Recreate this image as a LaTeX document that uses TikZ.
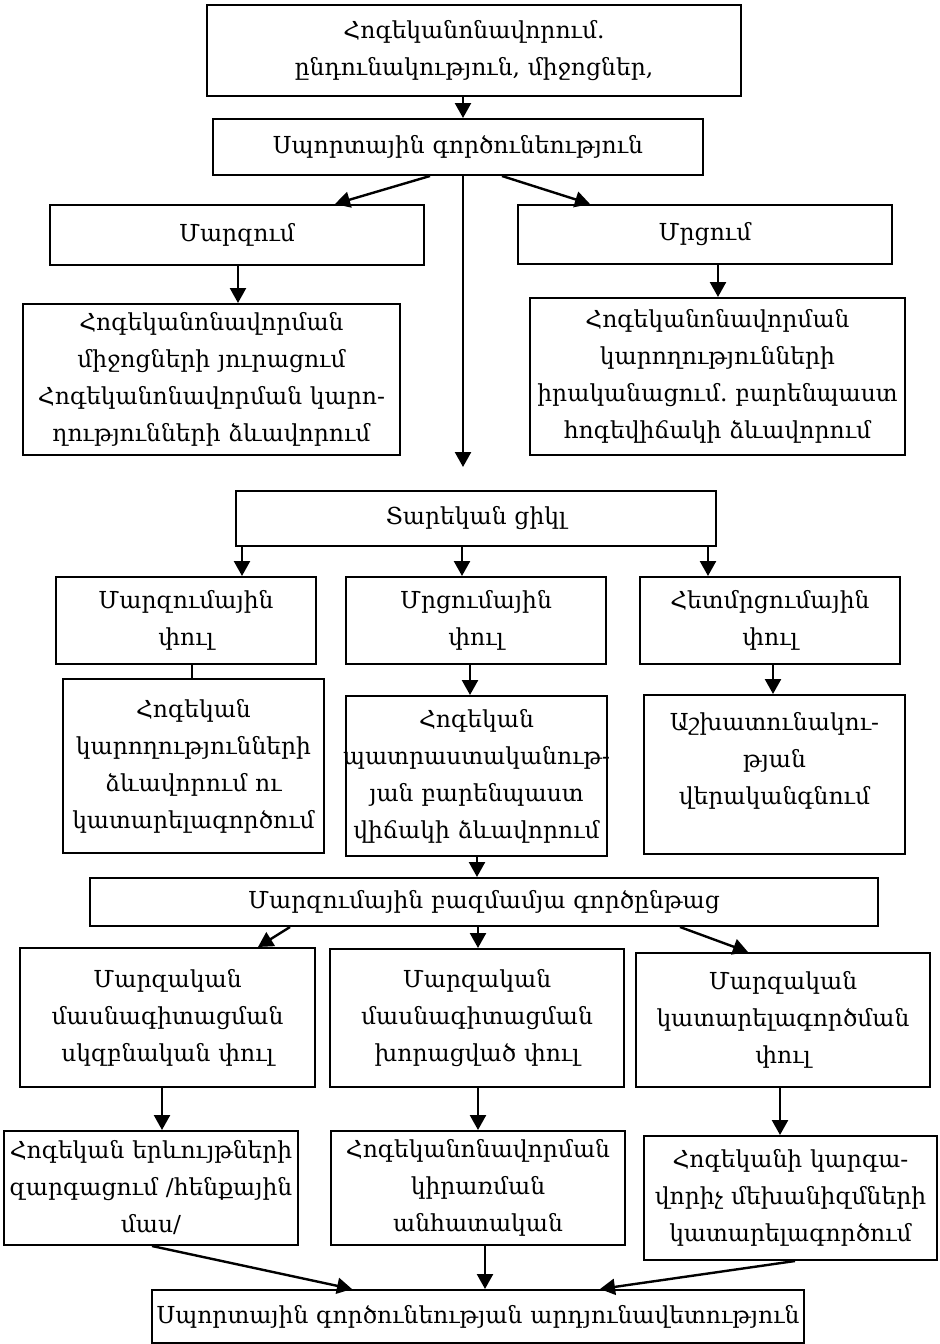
\documentclass[tikz,border=0pt]{standalone}
\usepackage{fontspec}
\setmainfont{DejaVu Serif}
\usetikzlibrary{arrows.meta}
\frenchspacing
\tikzset{
  panel/.style={draw, line width=1pt, align=center, inner sep=0pt,
    font=\fontsize{11.7}{18.5}\selectfont},
  link/.style={line width=1.2pt, -{Triangle[length=7.5pt,width=8pt]}},
}
% box from (x1,y1) to (x2,y2) in pixel units
\newcommand\panel[6]{%
  \node[panel, text width={(#4-#2)*0.5pt}, minimum height={(#5-#3)*0.5pt}]
    (#1) at ({(#2+#4)/2},{(#3+#5)/2}) {#6};}

\begin{document}
\begin{tikzpicture}[x=0.5pt, y=-0.5pt]
  \useasboundingbox (0,0) rectangle (939,1344);
  % top part
  \panel{intro}{207}{5}{741}{96}{Հոգեկանոնավորում.\\ ընդունակություն, միջոցներ,}
  \panel{sport}{213}{119}{703}{175}{Սպորտային գործունեություն}
  \panel{train}{50}{205}{424}{265}{Մարզում}
  \panel{compete}{518}{205}{892}{264}{Մրցում}
  \panel{trainres}{23}{304}{400}{455}{Հոգեկանոնավորման\\ միջոցների յուրացում\\ Հոգեկանոնավորման կարո-\\ ղությունների ձևավորում}
  \panel{competeres}{530}{298}{905}{455}{Հոգեկանոնավորման\\ կարողությունների\\ իրականացում. բարենպաստ\\ հոգեվիճակի ձևավորում}
  % yearly cycle
  \panel{year}{236}{491}{716}{546}{Տարեկան ցիկլ}
  \panel{prep}{56}{577}{316}{664}{Մարզումային\\ փուլ}
  \panel{comp}{346}{577}{606}{664}{Մրցումային\\ փուլ}
  \panel{post}{640}{577}{900}{664}{Հետմրցումային\\ փուլ}
  \panel{prepres}{63}{679}{324}{853}{Հոգեկան\\ կարողությունների\\ ձևավորում ու\\ կատարելագործում}
  \panel{compres}{346}{696}{607}{856}{Հոգեկան\\ \makebox[\linewidth]{պատրաստականութ-}\\ յան բարենպաստ\\ վիճակի ձևավորում}
  \panel{postres}{644}{695}{905}{854}{Աշխատունակու-\\ թյան\\ վերականգնում\\[-8pt] \strut}
  % long-term process
  \panel{longterm}{90}{878}{878}{926}{Մարզումային բազմամյա գործընթաց}
  \panel{basic}{20}{948}{315}{1087}{Մարզական\\ մասնագիտացման\\ սկզբնական փուլ}
  \panel{deep}{330}{949}{624}{1087}{Մարզական\\ մասնագիտացման\\ խորացված փուլ}
  \panel{master}{636}{953}{930}{1087}{Մարզական\\ կատարելագործման\\ փուլ}
  \panel{basicres}{4}{1131}{298}{1245}{Հոգեկան երևույթների\\ զարգացում /հենքային\\ մաս/}
  \panel{deepres}{331}{1131}{625}{1245}{Հոգեկանոնավորման\\ կիրառման\\ անհատական}
  \panel{masterres}{644}{1136}{937}{1260}{Հոգեկանի կարգա-\\ վորիչ մեխանիզմների\\ կատարելագործում}
  \panel{result}{152}{1290}{804}{1343}{Սպորտային գործունեության արդյունավետություն}
  % connectors
  \coordinate (gap) at (463,467);
  \draw[link] (intro.south -| 463,0) -- (sport.north -| 463,0);
  \draw[link] (sport.south -| 430,0) -- (train.north -| 335,0);
  \draw[link] (sport.south -| 502,0) -- (compete.north -| 590,0);
  \draw[link] (sport.south -| 463,0) -- (gap);
  \draw[link] (train.south -| 238,0) -- (trainres.north -| 238,0);
  \draw[link] (compete.south -| 718,0) -- (competeres.north -| 718,0);
  \draw[link] (year.south -| 242,0) -- (prep.north -| 242,0);
  \draw[link] (year.south -| 462,0) -- (comp.north -| 462,0);
  \draw[link] (year.south -| 708,0) -- (post.north -| 708,0);
  \draw[line width=1.2pt] (prep.south -| 192,0) -- (prepres.north -| 192,0);
  \draw[link] (comp.south -| 470,0) -- (compres.north -| 470,0);
  \draw[link] (post.south -| 773,0) -- (postres.north -| 773,0);
  \draw[link] (compres.south -| 477,0) -- (longterm.north -| 477,0);
  \draw[link] (longterm.south -| 290,0) -- (basic.north -| 258,0);
  \draw[link] (longterm.south -| 478,0) -- (deep.north -| 478,0);
  \draw[link] (longterm.south -| 680,0) -- (master.north -| 748,0);
  \draw[link] (basic.south -| 162,0) -- (basicres.north -| 162,0);
  \draw[link] (deep.south -| 478,0) -- (deepres.north -| 478,0);
  \draw[link] (master.south -| 780,0) -- (masterres.north -| 780,0);
  \draw[link] (basicres.south -| 152,0) -- (result.north -| 352,0);
  \draw[link] (deepres.south -| 485,0) -- (result.north -| 485,0);
  \draw[link] (masterres.south -| 795,0) -- (result.north -| 600,0);
\end{tikzpicture}
\end{document}
